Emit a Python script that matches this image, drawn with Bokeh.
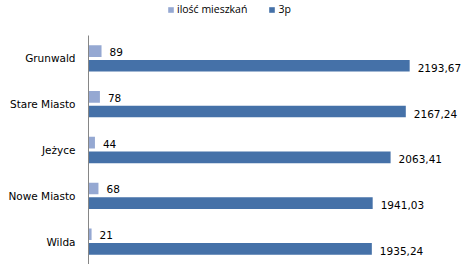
from bokeh.plotting import figure
from bokeh.models import ColumnDataSource, Legend, LegendItem, Range1d, FixedTicker
from bokeh.core.properties import value
from bokeh.embed import file_html
from bokeh.resources import INLINE

districts = ["Grunwald", "Stare Miasto", "Jeżyce", "Nowe Miasto", "Wilda"]
ilosc_mieszkan = [89, 78, 44, 68, 21]
p3 = [2193.67, 2167.24, 2063.41, 1941.03, 1935.24]
series_names = ["ilość mieszkań", "3p"]

LIGHT = "#95A8D2"
DARK = "#4571A8"
FONT = "DejaVu Sans"
OFF = 0.16


def fmt(v):
    if isinstance(v, int):
        return str(v)
    return f"{v:.2f}".replace(".", ",")


n = len(districts)
pos = [n - 1 - i for i in range(n)]  # first district on top

src = ColumnDataSource(dict(
    pos=pos,
    ya=[q + OFF for q in pos],
    yb=[q - OFF for q in pos],
    a=ilosc_mieszkan,
    b=p3,
    la=[fmt(v) for v in ilosc_mieszkan],
    lb=[fmt(v) for v in p3],
))

p = figure(width=465, height=264,
           y_range=Range1d(-0.5, 5.264),
           x_range=Range1d(0, 2575),
           x_axis_location=None,
           toolbar_location=None, output_backend="svg",
           min_border_left=88, min_border_right=0,
           min_border_top=0, min_border_bottom=0)

r1 = p.hbar(y="ya", left=0, right="a", height=0.255,
            fill_color=LIGHT, line_color=None, source=src)
r2 = p.hbar(y="yb", left=0, right="b", height=0.255,
            fill_color=DARK, line_color=None, source=src)

p.text(x="a", y="ya", text="la", x_offset=8, y_offset=1,
       text_baseline="middle", text_font=value(FONT), text_font_size="10.5px",
       text_color="black", source=src)
p.text(x="b", y="yb", text="lb", x_offset=8, y_offset=2,
       text_baseline="middle", text_font=value(FONT), text_font_size="10.5px",
       text_color="black", source=src)

p.yaxis.ticker = FixedTicker(ticks=pos)
p.yaxis.major_label_overrides = {q: d for q, d in zip(pos, districts)}
p.yaxis.bounds = (-0.5, n - 0.5)
p.yaxis.major_tick_line_color = None
p.yaxis.minor_tick_line_color = None
p.yaxis.major_tick_out = 0
p.yaxis.major_tick_in = 0
p.yaxis.axis_line_color = "#868686"
p.yaxis.major_label_text_font = FONT
p.yaxis.major_label_text_font_size = "10.5px"
p.yaxis.major_label_text_color = "black"
p.yaxis.major_label_standoff = 13
p.xgrid.grid_line_color = None
p.ygrid.grid_line_color = None
p.outline_line_color = None

legend = Legend(items=[LegendItem(label=series_names[0], renderers=[r1]),
                       LegendItem(label=series_names[1], renderers=[r2])],
                orientation="horizontal", location=(79, 248),
                glyph_width=7, glyph_height=7, label_height=12, label_width=10,
                label_standoff=3, spacing=21, padding=0, margin=0,
                border_line_color=None, background_fill_alpha=0,
                label_text_font="Open Sans", label_text_font_size="10.5px",
                label_text_color="black")
p.add_layout(legend)

open("out.html", "w").write(file_html(p, INLINE))
